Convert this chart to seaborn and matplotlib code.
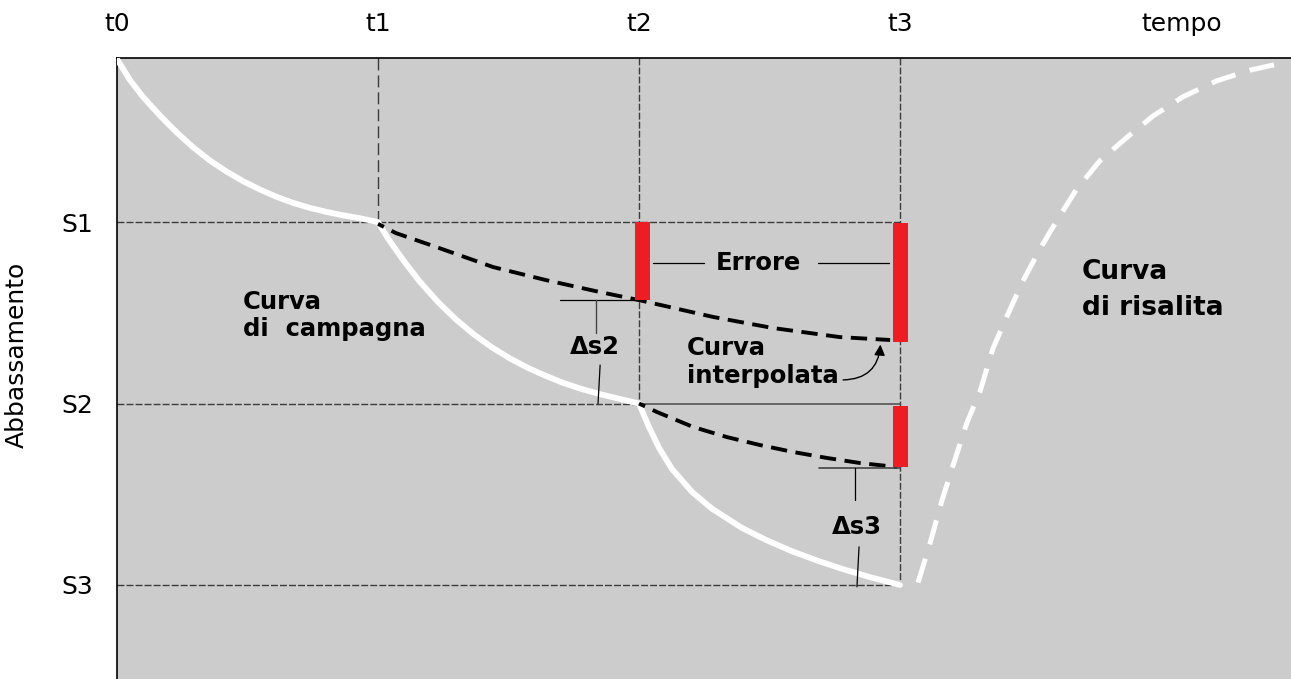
import matplotlib
matplotlib.use("Agg")
import matplotlib.pyplot as plt
import pandas as pd
import seaborn as sns

# ---------------- data (time in units of t, drawdown in units of S) -------------
tick_pos = [0, 1, 2, 3, 4.08]
tick_labels = ["t0", "t1", "t2", "t3", "tempo"]
s_pos = [1, 2, 3]
s_labels = ["S1", "S2", "S3"]

# field (measured) drawdown curve
field_t = [0.0, 0.050, 0.100, 0.165, 0.230, 0.291, 0.356, 0.421, 0.483, 0.548,
           0.613, 0.674, 0.739, 0.805, 0.866, 0.931, 1.0,
           1.038, 1.096, 1.161, 1.230, 1.299, 1.368, 1.437, 1.506, 1.575,
           1.640, 1.709, 1.778, 1.847, 1.916, 2.0,
           2.038, 2.077, 2.126, 2.203, 2.280, 2.395, 2.487, 2.586, 2.690,
           2.778, 2.881, 3.0]
field_s = [0.102, 0.218, 0.311, 0.414, 0.508, 0.587, 0.661, 0.723, 0.775, 0.821,
           0.862, 0.894, 0.922, 0.945, 0.963, 0.979, 1.0,
           1.090, 1.209, 1.330, 1.441, 1.537, 1.620, 1.691, 1.752, 1.804,
           1.846, 1.886, 1.919, 1.947, 1.971, 2.0,
           2.129, 2.245, 2.360, 2.487, 2.580, 2.686, 2.752, 2.814, 2.869,
           2.911, 2.955, 3.0]

# recovery curve
recov_t = [3.069, 3.115, 3.160, 3.203, 3.256, 3.307, 3.356, 3.409, 3.471, 3.536,
           3.600, 3.677, 3.766, 3.869, 3.969, 4.084, 4.213, 4.341, 4.448]
recov_s = [2.987, 2.771, 2.537, 2.342, 2.107, 1.931, 1.697, 1.521, 1.325, 1.149,
           0.994, 0.818, 0.662, 0.534, 0.416, 0.310, 0.222, 0.163, 0.129]

# interpolated curves
interp1_t = [1.0, 1.069, 1.234, 1.441, 1.644, 1.851, 2.0, 2.284, 2.513, 2.770, 2.962]
interp1_s = [1.01, 1.061, 1.143, 1.248, 1.320, 1.386, 1.430, 1.523, 1.584, 1.634, 1.650]
interp2_t = [2.0, 2.069, 2.207, 2.337, 2.464, 2.590, 2.720, 2.847, 2.989]
interp2_s = [2.0, 2.047, 2.129, 2.185, 2.229, 2.267, 2.300, 2.328, 2.350]

# error bars (red)
err_t = [2.013, 3.002, 3.002]
err_bottom = [1.0, 1.005, 2.015]
err_top = [1.43, 1.66, 2.35]

# ---------------- figure -------------
sns.set_theme(style="white")
plt.rcParams["font.family"] = ["DejaVu Sans"]
plt.rcParams["text.color"] = "black"

W, H = 1291, 679
fig = plt.figure(figsize=(W / 100, H / 100), dpi=100)
ax = fig.add_axes([117 / W, 0, 1 - 117 / W, 621 / H])
ax.set_facecolor("#cccccc")

T_MAX, S_TOP, S_BOT = 4.498, 0.096, 3.518

grid_kw = dict(color="#3c3c3c", lw=1.0, zorder=1)
# vertical reference lines t1, t2, t3 down to S1, S2, S3
ax.plot([tick_pos[1]] * 2, [S_TOP, s_pos[0]], dashes=(8.6, 3.6), **grid_kw)
ax.plot([tick_pos[2]] * 2, [S_TOP, s_pos[1]], dashes=(5, 1.5), **grid_kw)
ax.plot([tick_pos[3]] * 2, [S_TOP, s_pos[2]], dashes=(5, 1.5), **grid_kw)
# horizontal reference lines
ax.plot([0, tick_pos[3]], [s_pos[0]] * 2, dashes=(5, 1.5), **grid_kw)
ax.plot([0, tick_pos[2]], [s_pos[1]] * 2, dashes=(5, 1.5), **grid_kw)
ax.plot([tick_pos[2], tick_pos[3]], [s_pos[1]] * 2, color="#555555", lw=1.2, zorder=1)
ax.plot([0, tick_pos[3]], [s_pos[2]] * 2, dashes=(5, 1.5), **grid_kw)

# curves through seaborn
field_df = pd.DataFrame({"t": field_t, "s": field_s})
recov_df = pd.DataFrame({"t": recov_t, "s": recov_s})
i1_df = pd.DataFrame({"t": interp1_t, "s": interp1_s})
i2_df = pd.DataFrame({"t": interp2_t, "s": interp2_s})

sns.lineplot(data=field_df, x="t", y="s", sort=False, estimator=None, ax=ax,
             color="white", lw=4.2, zorder=3, solid_joinstyle="round",
             solid_capstyle="round")
sns.lineplot(data=recov_df, x="t", y="s", sort=False, estimator=None, ax=ax,
             color="white", lw=3.6, zorder=3, linestyle=(0, (5, 3)))
sns.lineplot(data=i1_df, x="t", y="s", sort=False, estimator=None, ax=ax,
             color="black", lw=2.8, zorder=4, linestyle=(2.5, (4.2, 2.2)))
sns.lineplot(data=i2_df, x="t", y="s", sort=False, estimator=None, ax=ax,
             color="black", lw=2.8, zorder=4, linestyle=(2.5, (4.2, 2.2)))

# red error bars
ax.bar(err_t, [b - a for a, b in zip(err_bottom, err_top)], bottom=err_bottom,
       width=0.0575, color="#ee1d23", zorder=5, linewidth=0)

ax.set_xlim(0, T_MAX)
ax.set_ylim(S_BOT, S_TOP)

for side in ["right", "bottom"]:
    ax.spines[side].set_visible(False)
for side in ["top", "left"]:
    ax.spines[side].set_color("black")
    ax.spines[side].set_linewidth(1.2)

ax.xaxis.tick_top()
ax.set_xticks(tick_pos, tick_labels)
ax.set_yticks(s_pos, s_labels)
ax.tick_params(axis="x", length=0, pad=16, labelsize=18, colors="black")
ax.tick_params(axis="y", length=0, pad=17, labelsize=18, colors="black")
ax.set_xlabel("")
ax.set_ylabel("Abbassamento", fontsize=18, color="black")
ax.yaxis.set_label_coords(-0.075, 0.522)

ann_kw = dict(color="black", lw=0.9, zorder=4)
txt_kw = dict(fontsize=17.5, fontweight="bold", color="black", zorder=6)
# Errore
ax.text(2.456, 1.226, "Errore", ha="center", va="center", **txt_kw)
ax.plot([2.054, 2.249], [1.226, 1.226], **ann_kw)
ax.plot([2.686, 2.958], [1.226, 1.226], **ann_kw)

# Δs2
ax.plot([1.697, 2.0], [1.43, 1.43], **ann_kw)
ax.plot([1.835, 1.835], [1.43, 1.612], color="#444444", lw=1.0, zorder=4)
ax.plot([1.851, 1.843], [1.788, 2.0], **ann_kw)
ax.text(1.831, 1.689, "Δs2", ha="center", va="center", **txt_kw)

# Δs3
ax.plot([2.690, 3.0], [2.355, 2.355], color="#444444", lw=1.2, zorder=4)
ax.plot([2.828, 2.828], [2.355, 2.532], **ann_kw)
ax.plot([2.843, 2.835], [2.79, 3.01], **ann_kw)
ax.text(2.835, 2.68, "Δs3", ha="center", va="center", **txt_kw)

# labels
ax.text(0.483, 1.515, "Curva\ndi  campagna", ha="left", va="center",
        linespacing=1.2, **txt_kw)
ax.text(2.184, 1.771, "Curva\ninterpolata", ha="left", va="center",
        linespacing=1.2, **txt_kw)
ax.text(3.697, 1.375, "Curva\ndi risalita", ha="left", va="center",
        fontsize=19, fontweight="bold", color="black", linespacing=1.5, zorder=6)

ax.annotate("", xy=(2.925, 1.675), xytext=(2.782, 1.870),
            arrowprops=dict(arrowstyle="-|>", connectionstyle="arc3,rad=0.45",
                            color="black", lw=1.0, mutation_scale=16,
                            shrinkA=0, shrinkB=0), zorder=6)

fig.savefig("out.png", dpi=100)
